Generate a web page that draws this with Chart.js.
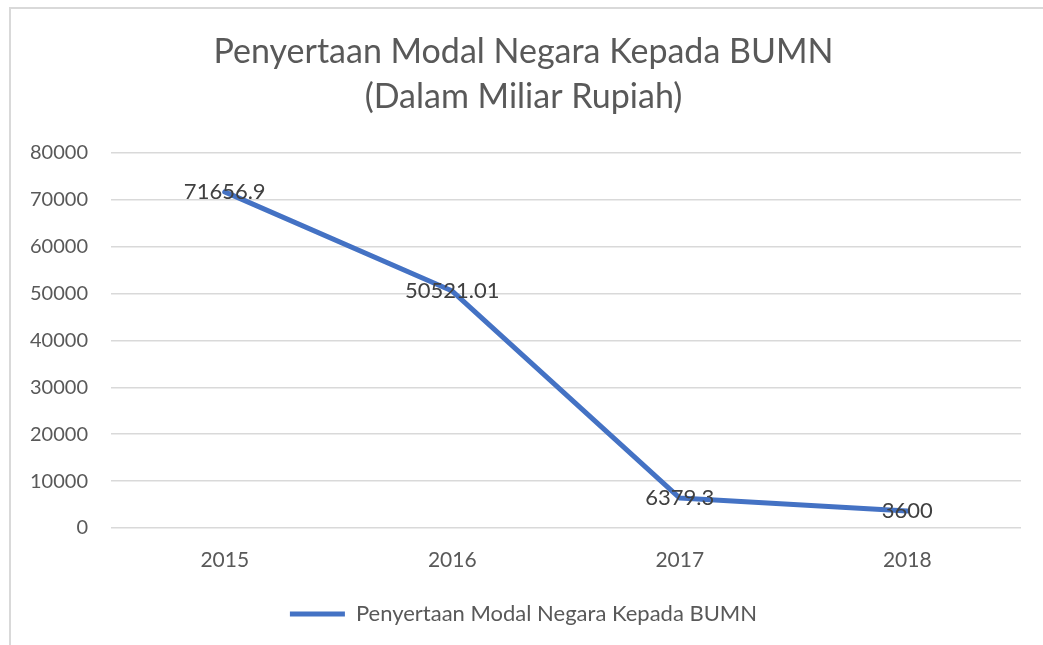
<!DOCTYPE html>
<html>
<head>
<meta charset="utf-8">
<script src="https://cdn.jsdelivr.net/npm/chart.js@4/dist/chart.umd.min.js"></script>
<style>
  html, body { margin: 0; padding: 0; background: #fff; }
  #frame {
    position: absolute; left: 9px; top: 7px; width: 1100px; height: 700px;
    border-top: 2px solid #d9d9d9; border-left: 2px solid #d9d9d9;
  }
  #wrap { position: absolute; left: 0; top: 0; width: 1043px; height: 645px; }
</style>
</head>
<body>
<div id="frame"></div>
<div id="wrap"><canvas id="pmn"></canvas></div>
<script>
const years = ['2015', '2016', '2017', '2018'];
const pmnValues = [71656.9, 50521.01, 6379.3, 3600];
const titleLines = ['Penyertaan Modal Negara Kepada BUMN', '(Dalam Miliar Rupiah)'];
const seriesName = 'Penyertaan Modal Negara Kepada BUMN';

const FONT = 'Lato';

// angka di atas titik, ditaruh tepat di tengah titik
const valueLabels = {
  id: 'valueLabels',
  afterDatasetsDraw(chart) {
    const ctx = chart.ctx;
    const meta = chart.getDatasetMeta(0);
    ctx.save();
    ctx.font = '22px ' + FONT;
    ctx.fillStyle = '#404040';
    ctx.textAlign = 'center';
    ctx.textBaseline = 'middle';
    meta.data.forEach((pt, i) => {
      ctx.fillText(String(pmnValues[i]), pt.x, pt.y);
    });
    ctx.restore();
  }
};

const ctx = document.getElementById('pmn').getContext('2d');

window.pmnChart = new Chart(ctx, {
  type: 'line',
  data: {
    labels: years,
    datasets: [{
      label: seriesName,
      data: pmnValues,
      borderColor: '#4472C4',
      backgroundColor: '#4472C4',
      borderWidth: 5,
      borderCapStyle: 'round',
      borderJoinStyle: 'round',
      pointRadius: 0,
      pointHoverRadius: 0,
      tension: 0,
      fill: false
    }]
  },
  options: {
    responsive: true,
    maintainAspectRatio: false,
    animation: false,
    layout: {
      // sedikit padding kiri agar judul & legenda lebih ke tengah
      padding: { left: 26, right: 22, top: 0, bottom: 10 }
    },
    plugins: {
      title: {
        display: true,
        text: titleLines,
        color: '#595959',
        font: { family: FONT, size: 34, weight: 'normal', lineHeight: 1.32 },
        padding: { top: 30, bottom: 33 }
      },
      legend: {
        display: true,
        position: 'bottom',
        labels: {
          color: '#595959',
          font: { family: FONT, size: 22 },
          usePointStyle: true,
          pointStyle: 'line',
          pointStyleWidth: 55,
          padding: 10
        }
      },
      tooltip: { enabled: false }
    },
    scales: {
      x: {
        offset: true,
        grid: { display: false, drawTicks: false },
        border: { display: false },
        ticks: {
          color: '#595959',
          font: { family: FONT, size: 21 },
          padding: 20
        },
        afterFit(scale) { scale.height = 65; }
      },
      y: {
        min: 0,
        max: 80000,
        grid: { color: '#d9d9d9', lineWidth: 1.5, drawTicks: false },
        border: { display: false },
        ticks: {
          stepSize: 10000,
          color: '#595959',
          font: { family: FONT, size: 20 },
          padding: 23,
          callback: (v) => String(v)
        },
        afterFit(scale) { scale.width = 85; }
      }
    }
  },
  plugins: [valueLabels]
});
</script>
</body>
</html>
